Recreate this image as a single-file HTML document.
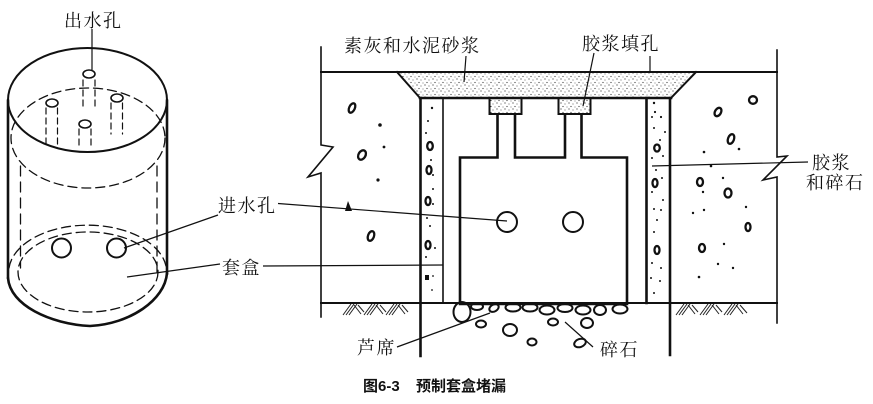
<!DOCTYPE html>
<html>
<head>
<meta charset="utf-8">
<style>
html,body{margin:0;padding:0;background:#fff;}
svg{display:block;}
.lbl{font-family:"Liberation Serif","Noto Serif CJK SC",serif;font-size:18px;letter-spacing:1.5px;fill:#111;}
.cap{font-family:"Liberation Sans","Noto Sans CJK SC",sans-serif;font-size:15px;font-weight:bold;fill:#111;}
</style>
</head>
<body>
<svg width="873" height="404" viewBox="0 0 873 404" xmlns="http://www.w3.org/2000/svg">
<defs>
<pattern id="stip" width="8" height="6" patternUnits="userSpaceOnUse">
<circle cx="1" cy="1" r="0.6" fill="#333"/>
<circle cx="5" cy="2" r="0.55" fill="#444"/>
<circle cx="3" cy="4.5" r="0.6" fill="#333"/>
<circle cx="7" cy="5" r="0.5" fill="#555"/>
</pattern>
</defs>
<rect width="873" height="404" fill="#fff"/>

<!-- ============ LEFT CYLINDER ============ -->
<g fill="none" stroke="#111" stroke-linecap="round">
<ellipse cx="87.5" cy="100" rx="79.5" ry="52" stroke-width="2"/>
<line x1="8" y1="100" x2="8" y2="278" stroke-width="2.6"/>
<line x1="167" y1="100" x2="167" y2="274" stroke-width="2.6"/>
<path d="M8,278 C10,305 50,324 90,326 C130,324 165,300 167,273" stroke-width="2.6"/>
<ellipse cx="88" cy="138" rx="77" ry="50" stroke-width="1.3" stroke-dasharray="9,5"/>
<line x1="20.5" y1="166" x2="20.5" y2="268" stroke-width="1.3" stroke-dasharray="10,6"/>
<line x1="157" y1="166" x2="157" y2="272" stroke-width="1.3" stroke-dasharray="10,6"/>
<path d="M9,268 A79,47 0 0 1 166,266" stroke-width="1.3" stroke-dasharray="9,5"/>
<ellipse cx="88" cy="272" rx="70" ry="40" stroke-width="1.3" stroke-dasharray="9,5"/>
<circle cx="61.5" cy="248" r="9.5" stroke-width="2"/>
<circle cx="116.5" cy="248" r="9.5" stroke-width="2"/>
<ellipse cx="89" cy="74" rx="6" ry="4" stroke-width="1.6"/>
<line x1="83" y1="80" x2="83" y2="110" stroke-width="1.2" stroke-dasharray="6,4"/>
<line x1="95" y1="80" x2="95" y2="110" stroke-width="1.2" stroke-dasharray="6,4"/>
<ellipse cx="52" cy="103" rx="6" ry="4" stroke-width="1.6"/>
<line x1="46" y1="108" x2="46" y2="148" stroke-width="1.2" stroke-dasharray="6,4"/>
<line x1="57.5" y1="108" x2="57.5" y2="148" stroke-width="1.2" stroke-dasharray="6,4"/>
<ellipse cx="117" cy="98" rx="6" ry="4" stroke-width="1.6"/>
<line x1="111" y1="103" x2="111" y2="134" stroke-width="1.2" stroke-dasharray="6,4"/>
<line x1="122.5" y1="103" x2="122.5" y2="134" stroke-width="1.2" stroke-dasharray="6,4"/>
<ellipse cx="85" cy="124" rx="6" ry="4" stroke-width="1.6"/>
<line x1="79" y1="129" x2="79" y2="148" stroke-width="1.2" stroke-dasharray="6,4"/>
<line x1="91" y1="129" x2="91" y2="148" stroke-width="1.2" stroke-dasharray="6,4"/>
</g>

<!-- ============ RIGHT SECTION ============ -->
<polygon points="397,72 696,72 671,98 420,98" fill="url(#stip)" stroke="none"/>
<g fill="none" stroke="#111" stroke-linecap="square">
<line x1="321" y1="72" x2="777" y2="72" stroke-width="2"/>
<line x1="397" y1="72" x2="420" y2="98" stroke-width="2"/>
<line x1="696" y1="72" x2="671" y2="98" stroke-width="2"/>
<line x1="420" y1="98" x2="671" y2="98" stroke-width="2.6"/>
<polyline points="321,47 321,145 333,147 308,177 321,173 321,317" stroke-width="1.6" stroke-linejoin="miter"/>
<polyline points="777,50 777,157 787,156 763,180 777,177 777,323" stroke-width="1.6"/>
<line x1="321" y1="303" x2="777" y2="303" stroke-width="2"/>
<line x1="420.5" y1="98" x2="420.5" y2="356" stroke-width="2.6"/>
<line x1="443" y1="98" x2="443" y2="303" stroke-width="1.6"/>
<line x1="646.5" y1="98" x2="646.5" y2="303" stroke-width="2.6"/>
<line x1="670" y1="98" x2="670" y2="355" stroke-width="2.6"/>
</g>
<rect x="489.5" y="98" width="32" height="16" fill="url(#stip)" stroke="#111" stroke-width="2"/>
<rect x="558.5" y="98" width="32" height="16" fill="url(#stip)" stroke="#111" stroke-width="2"/>
<path d="M497.5,114 L497.5,157.5 L460,157.5 L460,304 L627,304 L627,157.5 L581.5,157.5 L581.5,114 M565,114 L565,157.5 L515,157.5 L515,114" fill="none" stroke="#111" stroke-width="2.6" stroke-linejoin="miter"/>
<circle cx="507" cy="222" r="10" fill="none" stroke="#111" stroke-width="2"/>
<circle cx="573" cy="222" r="10" fill="none" stroke="#111" stroke-width="2"/>

<!-- hatching -->
<g stroke="#222" stroke-width="1">
<line x1="343" y1="315" x2="351" y2="304"/><line x1="346" y1="315" x2="354" y2="304"/><line x1="349" y1="315" x2="357" y2="304"/>
<line x1="354" y1="305" x2="361" y2="314"/><line x1="358" y1="305" x2="364" y2="312"/>
<line x1="364" y1="315" x2="372" y2="304"/><line x1="367" y1="315" x2="375" y2="304"/><line x1="370" y1="315" x2="378" y2="304"/>
<line x1="376" y1="305" x2="383" y2="314"/><line x1="380" y1="305" x2="386" y2="312"/>
<line x1="386" y1="315" x2="394" y2="304"/><line x1="389" y1="315" x2="397" y2="304"/><line x1="392" y1="315" x2="400" y2="304"/>
<line x1="398" y1="305" x2="405" y2="314"/><line x1="402" y1="305" x2="408" y2="312"/>
<line x1="676" y1="315" x2="684" y2="304"/><line x1="679" y1="315" x2="687" y2="304"/><line x1="682" y1="315" x2="690" y2="304"/>
<line x1="688" y1="305" x2="695" y2="314"/><line x1="692" y1="305" x2="698" y2="312"/>
<line x1="700" y1="315" x2="708" y2="304"/><line x1="703" y1="315" x2="711" y2="304"/><line x1="706" y1="315" x2="714" y2="304"/>
<line x1="712" y1="305" x2="719" y2="314"/><line x1="716" y1="305" x2="722" y2="312"/>
<line x1="724" y1="315" x2="732" y2="304"/><line x1="727" y1="315" x2="735" y2="304"/><line x1="730" y1="315" x2="738" y2="304"/>
<line x1="736" y1="305" x2="743" y2="314"/><line x1="740" y1="305" x2="747" y2="313"/>
</g>

<!-- gravel -->
<g fill="none" stroke="#111" stroke-width="2">
<ellipse cx="462" cy="312" rx="8.5" ry="10"/>
<ellipse cx="477" cy="306.5" rx="6" ry="3.5"/>
<ellipse cx="494" cy="308" rx="5" ry="3.5" transform="rotate(-30 494 308)"/>
<ellipse cx="513" cy="307.5" rx="7.5" ry="4"/>
<ellipse cx="530" cy="307.5" rx="7.5" ry="4"/>
<ellipse cx="547" cy="310" rx="7.5" ry="4.5"/>
<ellipse cx="565" cy="308" rx="7.5" ry="4"/>
<ellipse cx="583" cy="310" rx="7.5" ry="4.5"/>
<ellipse cx="600" cy="310" rx="6" ry="5"/>
<ellipse cx="620" cy="309" rx="7.5" ry="4.5"/>
<ellipse cx="481" cy="324" rx="5" ry="3.5"/>
<ellipse cx="510" cy="330" rx="7" ry="6"/>
<ellipse cx="553" cy="322" rx="5" ry="3.5"/>
<ellipse cx="587" cy="323" rx="6" ry="5"/>
<ellipse cx="532" cy="342" rx="4.5" ry="3.5"/>
<ellipse cx="580" cy="343" rx="6" ry="4" transform="rotate(-20 580 343)"/>
</g>

<!-- aggregate in concrete -->
<g fill="none" stroke="#111" stroke-width="2.3">
<ellipse cx="352" cy="108" rx="2.8" ry="5" transform="rotate(25 352 108)"/>
<ellipse cx="362" cy="155" rx="3.5" ry="5" transform="rotate(30 362 155)"/>
<ellipse cx="371" cy="236" rx="3" ry="5" transform="rotate(20 371 236)"/>
<ellipse cx="753" cy="100" rx="4" ry="3.8"/>
<ellipse cx="718" cy="112" rx="3" ry="4.5" transform="rotate(30 718 112)"/>
<ellipse cx="731" cy="139" rx="3" ry="5" transform="rotate(20 731 139)"/>
<ellipse cx="700" cy="182" rx="3" ry="4"/>
<ellipse cx="728" cy="193" rx="3.5" ry="4.5"/>
<ellipse cx="748" cy="227" rx="2.5" ry="4"/>
<ellipse cx="702" cy="248" rx="3" ry="4"/>
<ellipse cx="430" cy="146" rx="2.8" ry="4"/>
<ellipse cx="429" cy="170" rx="2.5" ry="4"/>
<ellipse cx="428" cy="201" rx="2.5" ry="4"/>
<ellipse cx="428" cy="245" rx="2.5" ry="4"/>
<ellipse cx="657" cy="148" rx="2.8" ry="3.5"/>
<ellipse cx="655" cy="183" rx="2.5" ry="4"/>
<ellipse cx="657" cy="250" rx="2.5" ry="4"/>
</g>
<g fill="#111">
<path d="M345,211 L348,201 L352,211 Z"/>
<rect x="425" y="275" width="4" height="5"/>
<circle cx="380" cy="125" r="1.8"/><circle cx="384" cy="147" r="1.4"/><circle cx="378" cy="180" r="1.6"/>
<circle cx="704" cy="152" r="1.3"/><circle cx="739" cy="149" r="1.3"/><circle cx="711" cy="166" r="1.3"/>
<circle cx="723" cy="178" r="1.2"/><circle cx="703" cy="192" r="1.2"/><circle cx="693" cy="213" r="1.2"/>
<circle cx="704" cy="210" r="1.2"/><circle cx="746" cy="207" r="1.2"/><circle cx="724" cy="244" r="1.2"/>
<circle cx="718" cy="264" r="1.2"/><circle cx="733" cy="268" r="1.2"/><circle cx="699" cy="277" r="1.3"/>
<circle cx="432" cy="108" r="1.2"/><circle cx="428" cy="121" r="1"/><circle cx="426" cy="133" r="1"/>
<circle cx="431" cy="160" r="1"/><circle cx="433" cy="175" r="1"/><circle cx="433" cy="189" r="1"/>
<circle cx="433" cy="204" r="1"/><circle cx="427" cy="218" r="1"/><circle cx="430" cy="226" r="1"/>
<circle cx="435" cy="248" r="1"/><circle cx="426" cy="257" r="1"/><circle cx="433" cy="276" r="0.9"/>
<circle cx="432" cy="290" r="0.9"/>
<circle cx="654" cy="103" r="1.2"/><circle cx="655" cy="112" r="1.1"/><circle cx="652" cy="117" r="1"/>
<circle cx="661" cy="117" r="1.1"/><circle cx="654" cy="128" r="1"/><circle cx="665" cy="132" r="1"/>
<circle cx="660" cy="140" r="1"/><circle cx="652" cy="158" r="1"/><circle cx="663" cy="156" r="1"/>
<circle cx="656" cy="170" r="1"/><circle cx="662" cy="178" r="1"/><circle cx="652" cy="192" r="1"/>
<circle cx="663" cy="200" r="1"/><circle cx="654" cy="209" r="1"/><circle cx="661" cy="210" r="1"/>
<circle cx="657" cy="220" r="1"/><circle cx="654" cy="232" r="1"/><circle cx="652" cy="263" r="1"/>
<circle cx="661" cy="268" r="1"/><circle cx="651" cy="278" r="1"/><circle cx="660" cy="281" r="1"/>
<circle cx="654" cy="293" r="1"/>
</g>

<!-- leader lines -->
<g stroke="#111" stroke-width="1.2" fill="none">
<line x1="92" y1="29" x2="92" y2="70"/>
<line x1="218" y1="215" x2="124" y2="248"/>
<line x1="278" y1="203.5" x2="507" y2="221"/>
<line x1="220" y1="264" x2="127" y2="277"/>
<line x1="263" y1="266" x2="443" y2="265"/>
<line x1="466" y1="56" x2="464" y2="82"/>
<line x1="594" y1="53" x2="583" y2="106"/>
<line x1="650" y1="56" x2="650" y2="72"/>
<line x1="808" y1="162" x2="652" y2="166"/>
<line x1="397" y1="347" x2="490" y2="313"/>
<line x1="593" y1="347" x2="565" y2="322"/>
</g>

<!-- labels -->
<text class="lbl" x="64" y="27">出水孔</text>
<text class="lbl" x="218" y="212">进水孔</text>
<text class="lbl" x="222" y="274">套盒</text>
<text class="lbl" x="344" y="52">素灰和水泥砂浆</text>
<text class="lbl" x="582" y="50">胶浆填孔</text>
<text class="lbl" x="812" y="169">胶浆</text>
<text class="lbl" x="806" y="189">和碎石</text>
<text class="lbl" x="357" y="354">芦席</text>
<text class="lbl" x="600" y="356">碎石</text>

<text class="cap" x="363" y="391">图6-3</text>
<text class="cap" x="416" y="391">预制套盒堵漏</text>
</svg>
</body>
</html>
